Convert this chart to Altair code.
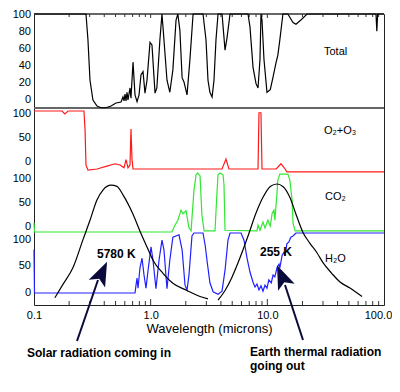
import altair as alt
import pandas as pd

# ---------------- data ----------------
# Total atmospheric absorption (%)
total_wl = [0.1, 0.279, 0.290, 0.302, 0.320, 0.347, 0.375, 0.414, 0.457, 0.505, 0.557, 0.579, 0.591, 0.603,
            0.615, 0.627, 0.639, 0.665, 0.678, 0.706, 0.734, 0.764, 0.795, 0.826, 0.86, 0.894, 0.93, 0.987,
            1.026, 1.09, 1.13, 1.20, 1.25, 1.30, 1.38, 1.46, 1.55, 1.65, 1.71, 1.78, 1.86, 1.93, 2.05, 2.17,
            2.31, 2.81, 2.98, 3.10, 3.22, 3.36, 3.49, 3.63, 3.78, 4.09, 4.34, 4.51, 4.79, 6.83, 7.10, 7.54,
            8.0, 8.32, 8.65, 8.82, 9.0, 9.36, 9.93, 10.6, 11.2, 11.9, 12.3, 12.8, 13.6, 15.0, 16.6, 17.6,
            19.4, 21.9, 85.4, 86.8, 88.2, 100]
total_pct = [100, 100, 70, 23, 0, -7, -9, -9, -7, -3.5, -2.3, 3.5, -1, 7,
             -1, 9, 0, 14, 2, 44, 6, -2, 6, 29, 33, 8, 23, 67,
             64, 8, 14, 70, 100, 70, 23, 9, 35, 93, 100, 81, 26, 21, 6, 47,
             100, 100, 70, 23, 9, 3.5, 23, 70, 100, 100, 58, 72, 100, 100, 85, 38,
             19, 14, 47, 100, 93, 47, 9, 12, 27, 44, 52, 70, 100, 100, 90, 88,
             93, 100, 100, 80, 100, 100]

# O2 + O3 absorption (%)
o2o3_wl = [0.1, 0.174, 0.184, 0.196, 0.268, 0.274, 0.279, 0.290, 0.347, 0.422, 0.495, 0.546, 0.591, 0.615,
           0.639, 0.665, 0.678, 0.692, 0.706, 4.09, 4.42, 4.69, 8.32, 8.48, 8.82, 9.0, 11.9, 13.1, 14.2,
           14.7, 100]
o2o3_pct = [100, 100, 95, 100, 100, 67, 7, -2, 0, 5, 9, 7, 2, 16,
            2, 7, 69, 16, 0, 0, 17, 0, 0, 97, 97, 0, 0, 9, 0,
            -5, -5]

# CO2 absorption (%)
co2_wl = [0.1, 0.101, 1.52, 1.62, 1.71, 1.82, 1.89, 2.01, 2.13, 2.22, 2.35, 2.45, 2.53, 2.65, 2.75, 2.87,
          3.56, 3.70, 3.78, 3.93, 4.17, 4.25, 4.34, 8.15, 8.32, 8.65, 9.18, 9.55, 10.1, 10.6, 11.0, 11.4,
          11.6, 12.1, 12.3, 12.8, 15.0, 15.6, 16.3, 16.6, 17.3, 100]
co2_pct = [15, 0, 0, 12, 20, 37, 31, 36, 7, 2, 71, 97, 100, 95, 29, 2,
           2, 66, 97, 100, 97, 80, 3, 2, 12, 3, 17, 7, 20, 10, 32, 37,
           20, 66, 88, 98, 98, 88, 54, 15, 2, 2]

# H2O absorption (%)
h2o_wl = [0.1, 0.101, 0.734, 0.749, 0.764, 0.779, 0.81, 0.843, 0.877, 0.912, 0.95, 1.007, 1.047, 1.11,
          1.18, 1.25, 1.30, 1.38, 1.46, 1.55, 1.75, 1.86, 1.97, 2.05, 2.13, 2.26, 2.35, 2.81, 2.93, 3.05,
          3.22, 3.43, 3.78, 4.09, 4.34, 4.60, 4.79, 5.95, 6.31, 6.70, 7.10, 7.54, 7.84, 8.15, 8.48, 8.82,
          9.18, 9.55, 9.93, 10.3, 10.8, 11.2, 11.6, 12.1, 12.6, 12.8, 13.4, 13.9, 14.2, 14.7, 15.3, 15.9,
          16.6, 17.6, 100]
h2o_pct = [72, 0, 0, 13, 25, 8, 42, 58, 30, 8, 38, 77, 55, 7,
           55, 88, 72, 7, 55, 93, 97, 72, 13, 5, 30, 95, 100, 100, 80, 52,
           17, 2, -2, 3, 38, 88, 100, 100, 88, 58, 35, 18, 10, 15, 5, 12,
           3, 13, 8, 22, 17, 30, 27, 42, 48, 42, 63, 68, 62, 82, 85, 93,
           95, 100, 100]

# Blackbody curves (relative intensity, %)
sun_wl = [0.151, 0.177, 0.216, 0.263, 0.302, 0.347, 0.390, 0.457, 0.514, 0.579, 0.706, 0.81, 0.93,
          1.047, 1.28, 1.55, 2.05, 2.65, 3.10]
sun_val = [6, 17, 31, 54, 70, 87, 95, 99, 98, 91, 75, 61, 48, 37, 26, 18, 12, 7, 5]

earth_wl = [3.78, 4.34, 4.98, 5.83, 6.83, 8.0, 9.18, 10.6, 12.1, 13.6, 15.6, 17.6, 20.2, 23.2, 26.7,
            30.0, 35.8, 42.0, 51.1, 64.8]
earth_val = [4, 12, 23, 39, 57, 76, 89, 98, 100, 98, 89, 75, 60, 51, 43, 35, 26, 19, 14, 7]

# y tick labels of each panel
total_ticks = [0, 20, 40, 60, 80, 100]
small_ticks = [0, 50, 100]
x_labels = [0.1, 1, 10, 100]

# ---------------- layout ----------------
FONT = "Liberation Sans, Arial, Helvetica, sans-serif"
W, H = 350, 291

xscale = alt.Scale(type="log", domain=[0.1, 100], nice=False)
yscale = alt.Scale(domain=[0, H], nice=False, zero=False)

xenc = alt.X("wl:Q", scale=xscale,
             axis=alt.Axis(values=x_labels, format=".1f", ticks=False, tickSize=0, grid=False,
                           domain=False, labelFlush=False, labelPadding=4, labelFont=FONT,
                           labelFontSize=11, labelColor="black",
                           labelOffset={"condition": {"test": "datum.value > 50", "value": -6}, "value": 0},
                           title="Wavelength (microns)",
                           titleFont=FONT, titleFontSize=13, titleFontWeight="normal",
                           titleColor="black", titlePadding=2))
yenc = alt.Y("Y:Q", scale=yscale, axis=None)


def stack(wl, vals, base, k):
    return pd.DataFrame({"wl": wl, "Y": [base + k * v for v in vals]})


def curve(df, color, interp="linear", width=1.2):
    return alt.Chart(df).mark_line(color=color, strokeWidth=width, interpolate=interp).encode(
        x=xenc, y=yenc)


def note(text, x, y, size=11, weight="normal", color="black"):
    return alt.Chart(pd.DataFrame({"t": [text]})).mark_text(
        align="left", baseline="middle", font=FONT, fontSize=size, fontWeight=weight, color=color
    ).encode(x=alt.value(x), y=alt.value(y), text="t:N")


layers = []

# frame separators
sep = pd.DataFrame({"Y": [H, 197]})
layers.append(alt.Chart(sep).mark_rule(color="#666", strokeWidth=2).encode(
    y=yenc, x=alt.value(0), x2=alt.value(W)))

# inner x ticks
minor = [d * k for d in [0.1, 1, 10] for k in range(2, 10)]
major = [1, 10]
mdf = pd.DataFrame({"wl": minor})
jdf = pd.DataFrame({"wl": major})
layers.append(alt.Chart(mdf).mark_rule(color="#333").encode(x=xenc, y=alt.value(H), y2=alt.value(H - 4)))
layers.append(alt.Chart(jdf).mark_rule(color="#333").encode(x=xenc, y=alt.value(H), y2=alt.value(H - 6)))
layers.append(alt.Chart(mdf).mark_rule(color="#333").encode(x=xenc, y=alt.value(0), y2=alt.value(3)))
layers.append(alt.Chart(jdf).mark_rule(color="#333").encode(x=xenc, y=alt.value(0), y2=alt.value(4)))

# absorption curves
layers.append(curve(stack(total_wl, total_pct, 205, 0.86), "black"))
layers.append(curve(stack(o2o3_wl, o2o3_pct, 136, 0.58), "#ff1a1a"))
layers.append(curve(stack(co2_wl, co2_pct, 73, 0.59), "#33e633"))
layers.append(curve(stack(h2o_wl, h2o_pct, 12, 0.60), "#2020ff"))
# blackbody curves
layers.append(curve(stack(sun_wl, sun_val, 0, 1.21), "black", "monotone"))
layers.append(curve(stack(earth_wl, earth_val, 0, 1.21), "black", "monotone"))

# y labels
lab = pd.concat([
    pd.DataFrame({"Y": [205 + 0.85 * v for v in total_ticks], "t": [str(v) for v in total_ticks]}),
    pd.DataFrame({"Y": [142.7 + 0.483 * v for v in small_ticks], "t": [str(v) for v in small_ticks]}),
    pd.DataFrame({"Y": [78.3 + 0.477 * v for v in small_ticks], "t": [str(v) for v in small_ticks]}),
    pd.DataFrame({"Y": [12.3 + 0.527 * v for v in small_ticks], "t": [str(v) for v in small_ticks]}),
])
layers.append(alt.Chart(lab).mark_text(align="right", baseline="middle", font=FONT, fontSize=11,
                                       color="black").encode(y=yenc, x=alt.value(-3), text="t:N"))

# panel names and temperatures
layers.append(note("Total", 290, 38))
layers.append(note("O₂+O₃", 290, 117))
layers.append(note("CO₂", 291, 183))
layers.append(note("H₂O", 291, 245))
layers.append(note("5780 K", 63, 240, 12, "bold"))
layers.append(note("255 K", 226, 238, 12, "bold"))

# arrows
NAVY = "#0b0b3b"
layers.append(alt.Chart(pd.DataFrame({"a": [0]})).mark_rule(color=NAVY, strokeWidth=2).encode(
    x=alt.value(43), y=alt.value(327), x2=alt.value(64), y2=alt.value(266)))
layers.append(alt.Chart(pd.DataFrame({"a": [0]})).mark_rule(color=NAVY, strokeWidth=2).encode(
    x=alt.value(269), y=alt.value(326), x2=alt.value(251), y2=alt.value(271)))
head = "M0,-1 L0.75,1 L0,0.55 L-0.75,1 Z"
layers.append(alt.Chart(pd.DataFrame({"a": [0]})).mark_point(
    shape=head, filled=True, color=NAVY, opacity=1, size=576, angle=25).encode(
    x=alt.value(68), y=alt.value(258.7)))
layers.append(alt.Chart(pd.DataFrame({"a": [0]})).mark_point(
    shape=head, filled=True, color=NAVY, opacity=1, size=576, angle=337).encode(
    x=alt.value(247.7), y=alt.value(262.2)))

# captions below
layers.append(note("Solar radiation coming in", -7, 339, 12, "bold"))
layers.append(note("Earth thermal radiation", 216, 338, 12, "bold"))
layers.append(note("going out", 216, 352, 12, "bold"))

chart = alt.layer(*layers).properties(
    width=W, height=H,
    autosize=alt.AutoSizeParams(type="none"),
    padding={"left": 26, "top": 6, "right": 8, "bottom": 72},
    background="white",
).configure_view(stroke="#222", strokeWidth=1)

chart.save("out.html", embed_options={"renderer": "svg", "actions": False})
